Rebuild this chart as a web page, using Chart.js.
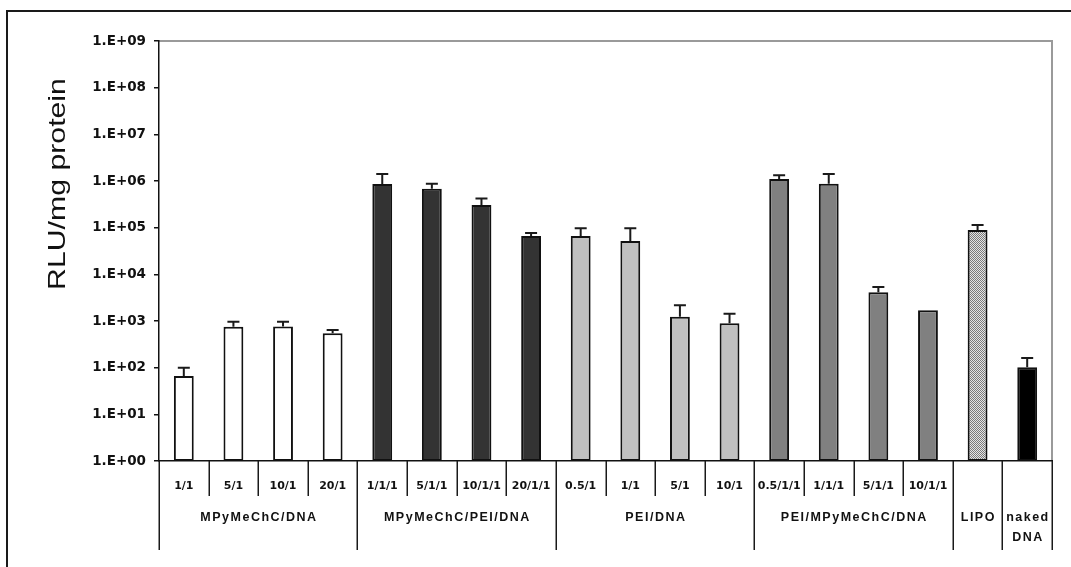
<!DOCTYPE html>
<html>
<head>
<meta charset="utf-8">
<script src="https://cdn.jsdelivr.net/npm/chart.js@4.4.1/dist/chart.umd.min.js"></script>
<style>
  html, body { margin: 0; padding: 0; background: #fff; }
  #wrap { width: 1071px; height: 567px; }
</style>
</head>
<body>
<div id="wrap"><canvas id="c" width="1071" height="567"></canvas></div>
<script>
// Luciferase expression, RLU per mg protein (log scale)
const ratioLabels = ['1/1', '5/1', '10/1', '20/1',
                     '1/1/1', '5/1/1', '10/1/1', '20/1/1',
                     '0.5/1', '1/1', '5/1', '10/1',
                     '0.5/1/1', '1/1/1', '5/1/1', '10/1/1',
                     '', ''];
const groupNames = ['MPyMeChC/DNA', 'MPyMeChC/PEI/DNA', 'PEI/DNA', 'PEI/MPyMeChC/DNA', 'LIPO', ['naked', 'DNA']];
const groupSizes = [4, 4, 4, 4, 1, 1];
const rluValues = [66, 755, 760, 545,
                   861000, 684000, 306000, 66500,
                   66000, 51800, 1240, 890,
                   1100000, 875000, 4120, 1690,
                   89000, 102];
const rluErrors = [34, 205, 200, 95,
                   549000, 191000, 118000, 10200,
                   31000, 45200, 930, 540,
                   220000, 535000, 1230, 0,
                   25000, 59];
const yTickValues = [1, 1e1, 1e2, 1e3, 1e4, 1e5, 1e6, 1e7, 1e8, 1e9];
const yTickLabels = ['1.E+00', '1.E+01', '1.E+02', '1.E+03', '1.E+04', '1.E+05', '1.E+06', '1.E+07', '1.E+08', '1.E+09'];

// fine dotted fill for the LIPO bar
function dotPattern() {
  const t = document.createElement('canvas');
  t.width = 2; t.height = 2;
  const g = t.getContext('2d');
  g.fillStyle = '#e4e4e4'; g.fillRect(0, 0, 2, 2);
  g.fillStyle = '#7a7a7a'; g.fillRect(0, 0, 1, 1); g.fillRect(1, 1, 1, 1);
  return g.createPattern(t, 'repeat');
}

const ctxMain = document.getElementById('c').getContext('2d');
const groupFills = ['#ffffff', '#333333', '#c0c0c0', '#808080', dotPattern(), '#000000'];
const barFills = [];
groupSizes.forEach((n, g) => { for (let k = 0; k < n; k++) barFills.push(groupFills[g]); });

const frame = {
  id: 'frame',
  beforeDraw(chart) {
    const ctx = chart.ctx, a = chart.chartArea;
    ctx.save();
    ctx.fillStyle = '#fff';
    ctx.fillRect(0, 0, chart.width, chart.height);
    // outer frame (top and left edges)
    ctx.strokeStyle = '#1a1a1a';
    ctx.lineWidth = 2;
    ctx.beginPath();
    ctx.moveTo(7, chart.height); ctx.lineTo(7, 11); ctx.lineTo(chart.width, 11);
    ctx.stroke();
    // plot area edges (top and right)
    ctx.strokeStyle = '#9a9a9a';
    ctx.lineWidth = 2;
    ctx.beginPath();
    ctx.moveTo(a.left, a.top); ctx.lineTo(a.right, a.top); ctx.lineTo(a.right, a.bottom);
    ctx.stroke();
    ctx.restore();
  }
};

const errorBars = {
  id: 'errorBars',
  afterDatasetsDraw(chart) {
    const ctx = chart.ctx, y = chart.scales.y;
    const meta = chart.getDatasetMeta(0);
    ctx.save();
    ctx.strokeStyle = '#1a1a1a';
    ctx.lineWidth = 2;
    meta.data.forEach((bar, i) => {
      if (!rluErrors[i]) return;
      const top = y.getPixelForValue(rluValues[i] + rluErrors[i]);
      ctx.beginPath();
      ctx.moveTo(bar.x, bar.y);
      ctx.lineTo(bar.x, top);
      ctx.moveTo(bar.x - 6, top);
      ctx.lineTo(bar.x + 6, top);
      ctx.stroke();
    });
    ctx.restore();
  }
};

const categoryFrame = {
  id: 'categoryFrame',
  afterDraw(chart) {
    const ctx = chart.ctx, x = chart.scales.x, a = chart.chartArea;
    const n = ratioLabels.length;
    const edge = i => i === 0 ? x.left : i === n ? x.right
      : (x.getPixelForValue(i - 1) + x.getPixelForValue(i)) / 2;
    ctx.save();
    ctx.strokeStyle = '#1a1a1a';
    ctx.lineWidth = 1.5;
    let start = 0;
    const groupEdges = [0];
    groupSizes.forEach(s => { start += s; groupEdges.push(start); });
    for (let i = 0; i <= n; i++) {
      const px = Math.round(edge(i)) + 0.25;
      const long = groupEdges.includes(i);
      ctx.beginPath();
      ctx.moveTo(px, a.bottom);
      ctx.lineTo(px, long ? a.bottom + 89 : a.bottom + 35);
      ctx.stroke();
    }
    // group names
    ctx.fillStyle = '#111';
    ctx.font = 'bold 12.5px "Liberation Sans"';
    ctx.letterSpacing = '1.5px';
    ctx.textAlign = 'center';
    ctx.textBaseline = 'middle';
    groupNames.forEach((name, g) => {
      const cx = (edge(groupEdges[g]) + edge(groupEdges[g + 1])) / 2;
      const lines = Array.isArray(name) ? name : [name];
      lines.forEach((t, k) => ctx.fillText(t, cx + 0.75, a.bottom + 57 + k * 20));
    });
    ctx.letterSpacing = '0px';
    // value axis title
    ctx.translate(65, 184);
    ctx.rotate(-Math.PI / 2);
    ctx.scale(1.26, 1);
    ctx.font = '24px "Liberation Sans"';
    ctx.textBaseline = 'alphabetic';
    ctx.fillStyle = '#111';
    ctx.fillText('RLU/mg protein', 0, 0);
    ctx.restore();
  }
};

new Chart(ctxMain, {
  type: 'bar',
  data: {
    labels: ratioLabels,
    datasets: [{
      data: rluValues,
      backgroundColor: barFills,
      borderColor: '#111',
      borderWidth: 2,
      borderSkipped: false,
      barPercentage: 0.4,
      categoryPercentage: 1.0
    }]
  },
  options: {
    responsive: false,
    animation: false,
    events: [],
    layout: { padding: { top: 41, right: 19, left: 0, bottom: 0 } },
    plugins: { legend: { display: false }, title: { display: false }, tooltip: { enabled: false } },
    scales: {
      x: {
        type: 'category',
        offset: true,
        grid: { display: false, drawTicks: false },
        border: { display: true, color: '#111', width: 1.5 },
        ticks: {
          autoSkip: false, maxRotation: 0, minRotation: 0,
          padding: 19,
          color: '#111',
          font: { family: '"DejaVu Sans"', size: 11, weight: 'bold' }
        },
        afterFit(s) { s.height = 106; }
      },
      y: {
        type: 'logarithmic',
        min: 1,
        max: 1e9,
        grid: { display: true, drawOnChartArea: false, drawTicks: true, tickLength: 5, color: '#111', lineWidth: 1.5 },
        border: { display: true, color: '#111', width: 1.5 },
        afterBuildTicks(s) { s.ticks = yTickValues.map(v => ({ value: v })); },
        ticks: {
          padding: 8,
          color: '#111',
          font: { family: '"DejaVu Sans"', size: 13.5, weight: 'bold' },
          callback: (v, i) => yTickLabels[i]
        },
        afterFit(s) { s.width = 159; }
      }
    }
  },
  plugins: [frame, errorBars, categoryFrame]
});
</script>
</body>
</html>
